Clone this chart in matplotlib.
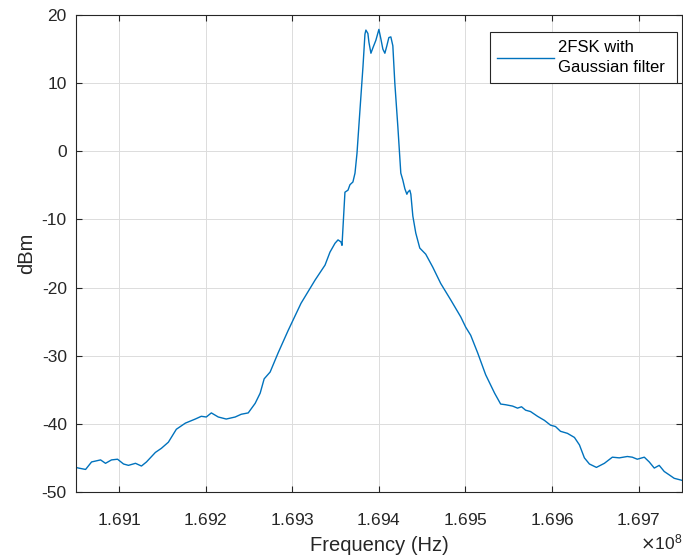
import numpy as np
import matplotlib
matplotlib.use("Agg")
import matplotlib.pyplot as plt

# Spectrum (frequency in MHz, power in dBm)
freq_mhz = [
    169.0500, 169.0532, 169.0613, 169.0682, 169.0786, 169.0843, 169.0912, 169.0982,
    169.1051, 169.1108, 169.1189, 169.1258, 169.1316, 169.1419, 169.1488, 169.1569,
    169.1661, 169.1765, 169.1880, 169.1949, 169.2007, 169.2065, 169.2145, 169.2237,
    169.2341, 169.2410, 169.2491, 169.2571, 169.2629, 169.2675, 169.2744, 169.2836,
    169.2952, 169.3101, 169.3263, 169.3378, 169.3435, 169.3493, 169.3528, 169.3562,
    169.3574, 169.3597, 169.3608, 169.3643, 169.3666, 169.3700, 169.3724, 169.3747,
    169.3781, 169.3816, 169.3839, 169.3850, 169.3873, 169.3885, 169.3908, 169.3931,
    169.3965, 169.4000, 169.4023, 169.4046, 169.4069, 169.4092, 169.4115, 169.4138,
    169.4161, 169.4184, 169.4219, 169.4253, 169.4276, 169.4300, 169.4323, 169.4334,
    169.4357, 169.4369, 169.4392, 169.4426, 169.4472, 169.4541, 169.4622, 169.4714,
    169.4829, 169.4945, 169.5002, 169.5060, 169.5141, 169.5233, 169.5336, 169.5406,
    169.5463, 169.5544, 169.5601, 169.5647, 169.5694, 169.5751, 169.5832, 169.5912,
    169.5982, 169.6039, 169.6097, 169.6177, 169.6258, 169.6316, 169.6373, 169.6431,
    169.6512, 169.6558, 169.6604, 169.6696, 169.6776, 169.6869, 169.6926, 169.6984,
    169.7065, 169.7122, 169.7180, 169.7237, 169.7295, 169.7353, 169.7410, 169.7500,
]
power_dbm = [
    -46.4, -46.5, -46.7, -45.6, -45.3, -45.8, -45.3, -45.2,
    -45.9, -46.1, -45.8, -46.2, -45.6, -44.2, -43.6, -42.7,
    -40.8, -39.9, -39.3, -38.9, -39.0, -38.4, -39.0, -39.3,
    -39.0, -38.6, -38.4, -37.0, -35.5, -33.4, -32.4, -29.6,
    -26.3, -22.3, -18.9, -16.7, -14.8, -13.5, -13.0, -13.3,
    -13.8, -8.5, -6.0, -5.7, -4.9, -4.5, -3.2, -0.3,
    6.0, 12.4, 17.2, 17.8, 17.3, 16.0, 14.4, 15.2,
    16.3, 17.9, 16.5, 15.0, 14.4, 15.5, 16.7, 16.8,
    15.5, 10.0, 3.6, -3.2, -4.2, -5.5, -6.3, -6.0,
    -5.7, -6.3, -9.5, -12.0, -14.2, -15.1, -17.0, -19.4,
    -21.8, -24.3, -25.8, -27.0, -29.6, -32.8, -35.5, -37.1,
    -37.2, -37.4, -37.7, -37.5, -38.0, -38.2, -38.9, -39.5,
    -40.2, -40.4, -41.1, -41.4, -42.0, -43.1, -45.0, -45.9,
    -46.4, -46.1, -45.8, -44.9, -45.0, -44.8, -44.9, -45.2,
    -44.9, -45.6, -46.5, -46.1, -47.0, -47.5, -48.0, -48.3,
]
x_ticks = [1.691e8, 1.692e8, 1.693e8, 1.694e8, 1.695e8, 1.696e8, 1.697e8]
y_ticks = [-50, -40, -30, -20, -10, 0, 10, 20]

plt.rcParams['font.family'] = ['Liberation Sans', 'DejaVu Sans']
plt.rcParams['axes.unicode_minus'] = False
dark = '#262626'

fig = plt.figure(figsize=(6.83, 5.59), dpi=100)
ax = fig.add_axes([0.111, 0.12, 0.8875, 0.853])

freq_hz = np.array(freq_mhz) * 1e6
ax.plot(freq_hz, power_dbm, color='#0072BD', lw=1.0, label='2FSK with\nGaussian filter')

ax.set_xlim(169.05e6, 169.75e6)
ax.set_ylim(-50, 20)
ax.set_xticks(x_ticks)
ax.set_yticks(y_ticks)
ax.ticklabel_format(axis='x', style='sci', scilimits=(8, 8), useMathText=True)
ax.xaxis.get_offset_text().set_fontsize(12.5)
ax.xaxis.get_offset_text().set_color(dark)

ax.grid(True, color='#dcdcdc', lw=0.7)
ax.set_axisbelow(True)
ax.tick_params(direction='in', top=True, right=True, length=4, width=0.8,
               labelsize=12.5, colors=dark, labelcolor=dark)
ax.tick_params(axis='x', pad=14.5)
ax.tick_params(axis='y', pad=6.5)
for s in ax.spines.values():
    s.set_color(dark)
    s.set_linewidth(0.8)

ax.set_xlabel('Frequency (Hz)', fontsize=14.5, color=dark, labelpad=6)
ax.set_ylabel('dBm', fontsize=14.5, color=dark)

leg = ax.legend(loc='upper right', fontsize=12, fancybox=False, framealpha=1,
                edgecolor=dark, handlelength=3.4, handletextpad=0.25,
                borderpad=0.45, borderaxespad=0,
                bbox_to_anchor=(0.992, 0.964))
leg.get_frame().set_linewidth(0.8)
for t in leg.get_texts():
    t.set_linespacing(1.45)
    t.set_text(t.get_text().replace('filter', 'filter '))

fig.savefig('out.png', dpi=100)
